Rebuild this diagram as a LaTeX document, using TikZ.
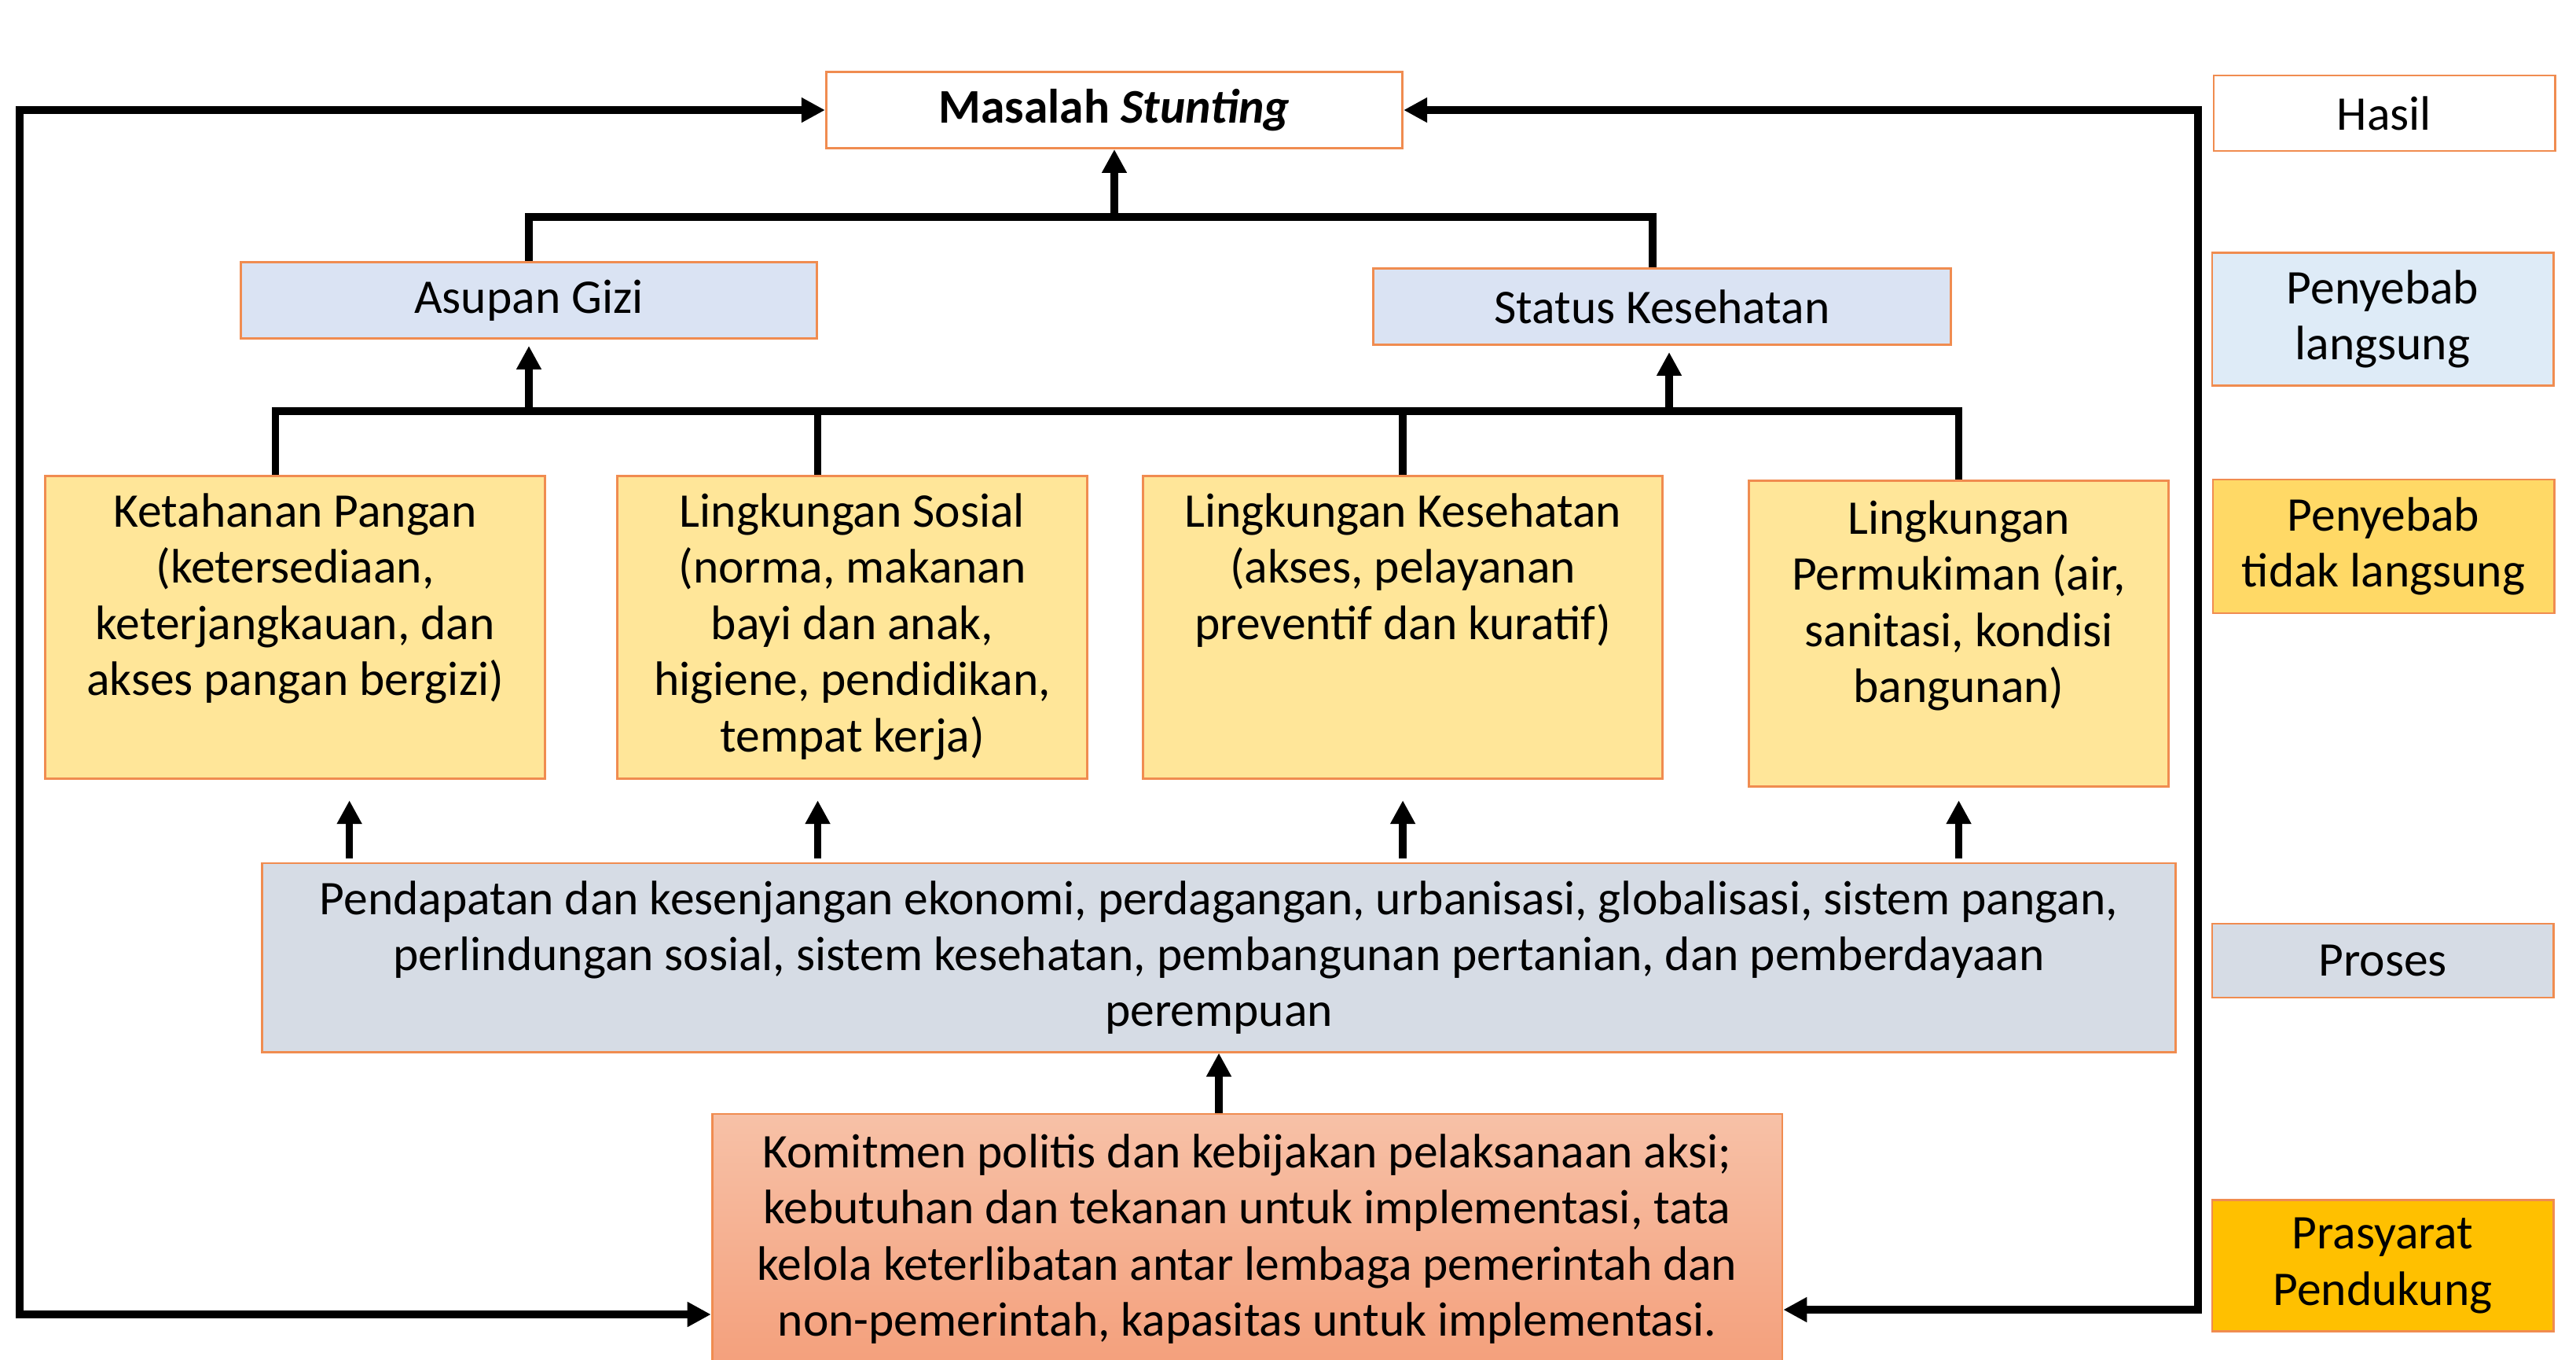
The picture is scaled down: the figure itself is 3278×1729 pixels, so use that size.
\documentclass[tikz,border=0pt]{standalone}
\usepackage{fontspec}
\setmainfont{Carlito}
\usepackage{xcolor}
\usepackage{tikz}
\usetikzlibrary{arrows.meta}
\definecolor{boxline}{HTML}{F08C50}
\definecolor{bluefill}{HTML}{DAE3F3}
\definecolor{lightblue}{HTML}{DEEBF7}
\definecolor{causefill}{HTML}{FFE699}
\definecolor{causedark}{HTML}{FFD966}
\definecolor{grayfill}{HTML}{D6DCE5}
\definecolor{komtop}{HTML}{F7C1A7}
\definecolor{kombot}{HTML}{F4A07C}
\definecolor{goldfill}{HTML}{FFC000}
\tikzstyle{box} = [rectangle, draw=boxline, line width=0.8pt, inner sep=0pt, align=flush center, font=\fontsize{17.5}{20.3}\selectfont]
\tikzstyle{level} = [box, minimum height=0.97cm]
\tikzstyle{cause} = [box, fill=causefill, anchor=north west]
\tikzstyle{legend} = [box, minimum width=4.34cm]
\tikzstyle{bar} = [line width=2.7pt]
\tikzstyle{arrow} = [line width=2.7pt, ->, >={Triangle[length=0.3cm, width=0.3cm]}]

\begin{document}
\begin{tikzpicture}[x=0.01cm, y=-0.01cm]
    \useasboundingbox (0,0) rectangle (3278,1729);

    \node (masalah) [level, minimum width=7.33cm, fill=white] at (1418,140) {\textbf{Masalah \textit{Stunting}}};
    \node (asupan) [level, minimum width=7.32cm, fill=bluefill] at (673,382) {Asupan Gizi};
    \node (status) [level, minimum width=7.34cm, fill=bluefill] at (2115,390) {Status Kesehatan};

    \node (ketahanan) [cause, text width=6.36cm, text height=0.65cm, text depth=3.2cm] at (56,604) {Ketahanan Pangan\\(ketersediaan,\\keterjangkauan, dan\\akses pangan bergizi)};
    \node (sosial) [cause, text width=5.98cm, text height=0.65cm, text depth=3.2cm] at (784,604) {Lingkungan Sosial\\(norma, makanan\\bayi dan anak,\\higiene, pendidikan,\\tempat kerja)};
    \node (kesehatan) [cause, text width=6.61cm, text height=0.65cm, text depth=3.2cm] at (1453,604) {Lingkungan Kesehatan\\(akses, pelayanan\\preventif dan kuratif)};
    \node (permukiman) [cause, text width=5.34cm, text height=0.68cm, text depth=3.21cm] at (2224,610) {Lingkungan\\Permukiman (air,\\sanitasi, kondisi\\bangunan)};

    \node (pendapatan) [box, minimum width=24.34cm, minimum height=2.4cm, fill=grayfill] at (1551,1218) {Pendapatan dan kesenjangan ekonomi, perdagangan, urbanisasi, globalisasi, sistem pangan,\\perlindungan sosial, sistem kesehatan, pembangunan pertanian, dan pemberdayaan\\perempuan};
    \node (komitmen) [box, minimum width=13.61cm, minimum height=3.18cm, top color=komtop, bottom color=kombot] at (1587,1576) {Komitmen politis dan kebijakan pelaksanaan aksi;\\kebutuhan dan tekanan untuk implementasi, tata\\kelola keterlibatan antar lembaga pemerintah dan\\non-pemerintah, kapasitas untuk implementasi.};

    % legenda kanan
    \node (hasil) [legend, minimum height=0.96cm, fill=white] at (3034,144) {Hasil};
    \node (langsung) [legend, minimum height=1.69cm, fill=lightblue] at (3032,406) {Penyebab\\langsung};
    \node (tidaklangsung) [legend, minimum height=1.7cm, fill=causedark] at (3033,695) {Penyebab\\tidak langsung};
    \node (proses) [legend, minimum height=0.94cm, fill=grayfill] at (3032,1222) {Proses};
    \node (prasyarat) [legend, minimum height=1.67cm, fill=goldfill] at (3032,1610) {Prasyarat\\Pendukung};

    \coordinate (topbar) at (1418,276);
    \coordinate (midbar) at (1418,523);
    \coordinate (lcorner) at (25,1672);
    \coordinate (rcorner) at (2797,1666);

    \draw[bar] (asupan.north) |- (topbar) -| ([xshift=-0.12cm]status.north);
    \draw[arrow] (topbar) -- (masalah.south);

    \draw[bar] ([xshift=-0.25cm]ketahanan.north) |- (midbar) -| (permukiman.north);
    \draw[bar] ([xshift=-0.44cm]sosial.north) -- ([xshift=-0.44cm]sosial.north |- midbar);
    \draw[bar] (kesehatan.north) -- (kesehatan.north |- midbar);
    \draw[arrow, shorten >=0.08cm] (asupan.south |- midbar) -- (asupan.south);
    \draw[arrow, shorten >=0.08cm] ([xshift=0.09cm]status.south |- midbar) -- ([xshift=0.09cm]status.south);

    \draw[arrow, shorten <=0.05cm, shorten >=0.26cm] ([xshift=0.69cm]ketahanan.south |- pendapatan.north) -- ([xshift=0.69cm]ketahanan.south);
    \draw[arrow, shorten <=0.05cm, shorten >=0.26cm] ([xshift=-0.44cm]sosial.south |- pendapatan.north) -- ([xshift=-0.44cm]sosial.south);
    \draw[arrow, shorten <=0.05cm, shorten >=0.26cm] (kesehatan.south |- pendapatan.north) -- (kesehatan.south);
    \draw[arrow, shorten <=0.05cm, shorten >=0.16cm] (permukiman.south |- pendapatan.north) -- (permukiman.south);
    \draw[arrow] (komitmen.north -| pendapatan.south) -- (pendapatan.south);

    \draw[arrow, <->] (masalah.west) -| (lcorner) -- (lcorner -| komitmen.west);
    \draw[arrow, <->] (masalah.east) -| (rcorner) -- (rcorner -| komitmen.east);
\end{tikzpicture}
\end{document}
